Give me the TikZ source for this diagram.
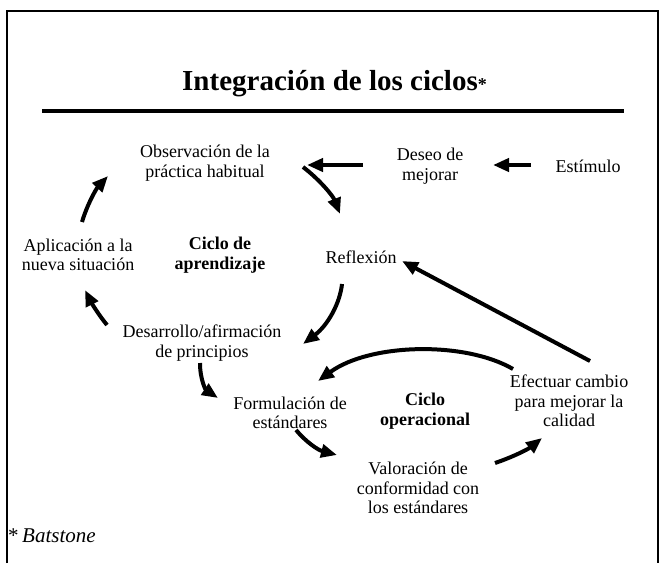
\documentclass[tikz,border=0pt]{standalone}
\usepackage{fontspec}
\setmainfont{Liberation Serif}
\usetikzlibrary{arrows.meta}
\begin{document}
\begin{tikzpicture}[x=1pt,y=-1pt,
  lbl/.style={align=center,inner sep=0pt,font=\fontsize{18}{19.5}\selectfont},
  boldlbl/.style={align=center,inner sep=0pt,font=\fontsize{18}{19.5}\selectfont\bfseries},
  arr/.style={line width=4pt,-{Triangle[length=16pt,width=13pt]}}]
\useasboundingbox (0,0) rectangle (660,563);
% frame and rule
\draw[line width=2pt] (7,563) -- (7,11) -- (658,11) -- (658,563);
\draw[line width=4pt] (42,111) -- (624,111);
% title
\node[anchor=base west,inner sep=0pt,font=\fontsize{29}{29}\selectfont\bfseries] (title) at (182,90)
  {Integración de los ciclos{\fontsize{18}{18}\selectfont*}};
% nodes
\node[lbl] (obs) at (205,163) {Observación de la\\práctica habitual};
\node[lbl] (deseo) at (430,166) {Deseo de\\mejorar};
\node[lbl] (estim) at (588,166) {Estímulo};
\node[lbl] (aplic) at (78,255) {Aplicación a la\\nueva situación};
\node[boldlbl] (cicloA) at (220,255) {Ciclo de\\aprendizaje};
\node[lbl] (refl) at (361,257) {Reflexión};
\node[lbl] (desarr) at (202,343) {Desarrollo/afirmación\\de principios};
\node[lbl] (formul) at (290,413) {Formulación de\\estándares};
\node[boldlbl] (cicloO) at (425,411) {Ciclo\\operacional};
\node[lbl] (efect) at (569,401) {Efectuar cambio\\para mejorar la\\calidad};
\node[lbl] (valor) at (418,488) {Valoración de\\conformidad con\\los estándares};
\node[anchor=base west,inner sep=0pt,font=\fontsize{21}{21}\selectfont] (bat) at (8,542) {*\,\textit{Batstone}};
% arrow end points
\coordinate (e1) at (531,165); \coordinate (e2) at (493,165);
\coordinate (d1) at (363,165); \coordinate (d2) at (307,165);
\coordinate (o1) at (303,167); \coordinate (o2) at (340,214);
\coordinate (r1) at (342,284); \coordinate (r2) at (303,344);
\coordinate (f1) at (590,361); \coordinate (f2) at (402,261);
\coordinate (p1) at (107,325); \coordinate (p2) at (85,290);
\coordinate (q1) at (82,222);  \coordinate (q2) at (108,176);
\coordinate (s1) at (200,363); \coordinate (s2) at (218,398);
\coordinate (c1) at (513,369); \coordinate (c2) at (318,381);
\coordinate (t1) at (296,430); \coordinate (t2) at (337,455);
\coordinate (v1) at (495,463); \coordinate (v2) at (542,438);
% arrows
\draw[arr] (e1) -- (e2);
\draw[arr] (d1) -- (d2);
\draw[arr] (o1) .. controls (320,180) and (333,196) .. (o2);
\draw[arr] (r1) .. controls (340,303) and (328,325) .. (r2);
\draw[arr] (f1) -- (f2);
\draw[arr] (p1) .. controls (98,314) and (91,302) .. (p2);
\draw[arr] (q1) .. controls (87,205) and (96,189) .. (q2);
\draw[arr] (s1) .. controls (200,380) and (206,390) .. (s2);
\draw[arr] (c1) .. controls (465,341) and (370,343) .. (c2);
\draw[arr] (t1) .. controls (306,442) and (318,450) .. (t2);
\draw[arr] (v1) .. controls (510,458) and (527,450) .. (v2);
\end{tikzpicture}
\end{document}
